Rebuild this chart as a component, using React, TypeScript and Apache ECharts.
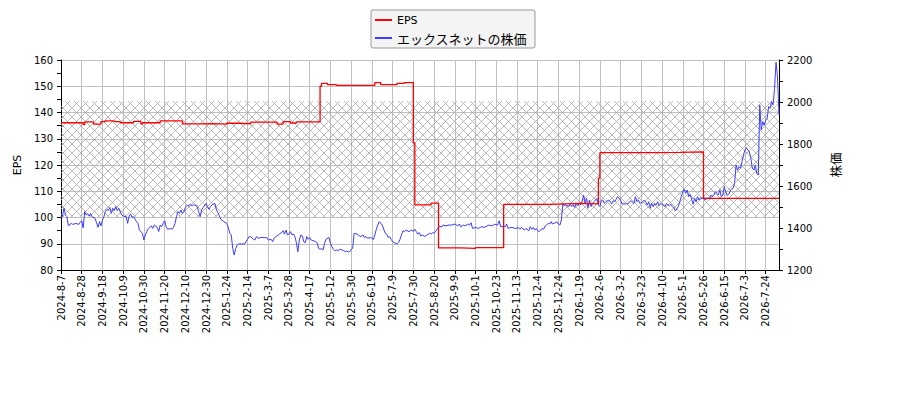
import * as echarts from "echarts";
import { useEffect, useRef } from "react";

// x = trading-day index, one tick label every 14 trading days
const tickLabels = [
  "2024-8-7", "2024-8-28", "2024-9-18", "2024-10-9", "2024-10-30", "2024-11-20",
  "2024-12-10", "2024-12-30", "2025-1-24", "2025-2-14", "2025-3-7", "2025-3-28",
  "2025-4-17", "2025-5-12", "2025-5-30", "2025-6-19", "2025-7-9", "2025-7-30",
  "2025-8-20", "2025-9-9", "2025-10-1", "2025-10-23", "2025-11-13", "2025-12-4",
  "2025-12-24", "2026-1-19", "2026-2-6", "2026-3-2", "2026-3-23", "2026-4-10",
  "2026-5-1", "2026-5-26", "2026-6-15", "2026-7-3", "2026-7-24",
];
const tickStep = 14;
const lastDay = 485;

// EPS: [trading-day index, value] — value holds until the next entry
const epsSteps: [number, number][] = [
  [0, 136.1], [15, 135.4], [16, 136.4], [22, 135.6], [27, 136.5], [30, 136.8],
  [36, 136.5], [40, 136.1], [49, 136.6], [54, 135.6], [55, 136.1], [67, 136.8],
  [82, 135.7], [94, 135.8], [103, 135.6], [112, 135.9], [121, 135.7], [128, 136.3],
  [146, 135.6], [150, 136.5], [155, 136.0], [159, 136.4], [175, 150.0], [176, 151.1],
  [180, 150.6], [186, 150.3], [212, 151.4], [216, 150.6], [227, 151.1], [232, 151.4],
  [238, 128.4], [239, 104.8], [250, 105.5], [255, 88.4], [270, 88.2], [280, 88.5],
  [299, 105.0], [330, 105.2], [340, 105.4], [350, 105.2], [363, 115.0], [364, 124.7],
  [400, 124.8], [418, 125.0], [434, 107.3], [485, 107.3],
];

// share price: [trading-day index, yen]
const prices: [number, number][] = [
  [0, 1446], [1, 1457], [2, 1494], [3, 1462], [4, 1454], [5, 1410], [7, 1422], [8, 1417],
  [10, 1422], [12, 1417], [13, 1427], [14, 1435], [15, 1400], [16, 1478], [17, 1462],
  [18, 1467], [19, 1457], [20, 1470], [21, 1454], [23, 1446], [24, 1425], [25, 1403],
  [26, 1430], [27, 1410], [28, 1438], [29, 1454], [30, 1478], [31, 1489], [32, 1483],
  [33, 1498], [34, 1470], [35, 1494], [36, 1483], [37, 1502], [38, 1483], [39, 1494],
  [41, 1462], [42, 1457], [44, 1454], [45, 1422], [46, 1457], [47, 1467], [48, 1451],
  [49, 1454], [51, 1430], [52, 1422], [53, 1390], [55, 1375], [56, 1343], [57, 1367],
  [58, 1383], [59, 1398], [60, 1403], [61, 1410], [62, 1398], [63, 1414], [65, 1403],
  [66, 1383], [67, 1414], [68, 1406], [69, 1422], [70, 1435], [71, 1406], [72, 1394],
  [74, 1398], [75, 1394], [76, 1403], [77, 1422], [78, 1454], [79, 1478], [80, 1470],
  [81, 1486], [82, 1470], [83, 1478], [84, 1498], [85, 1505], [87, 1510], [89, 1508],
  [90, 1510], [92, 1502], [93, 1478], [94, 1454], [95, 1486], [96, 1498], [98, 1517],
  [99, 1502], [100, 1489], [101, 1502], [102, 1510], [103, 1514], [104, 1517], [105, 1486],
  [106, 1473], [107, 1457], [108, 1441], [110, 1430], [112, 1422], [113, 1403], [114, 1375],
  [115, 1367], [116, 1303], [117, 1271], [118, 1303], [119, 1319], [120, 1324], [122, 1324],
  [124, 1324], [125, 1335], [126, 1346], [127, 1359], [128, 1359], [130, 1346], [131, 1343],
  [132, 1359], [133, 1351], [135, 1355], [138, 1354], [139, 1355], [140, 1343], [142, 1346],
  [143, 1335], [144, 1351], [145, 1359], [147, 1367], [148, 1375], [149, 1378], [150, 1387],
  [151, 1371], [152, 1390], [153, 1367], [154, 1371], [155, 1383], [156, 1367], [157, 1371],
  [158, 1359], [159, 1330], [160, 1287], [161, 1343], [162, 1367], [163, 1362], [164, 1335],
  [165, 1330], [166, 1359], [167, 1346], [168, 1355], [169, 1343], [172, 1335], [173, 1330],
  [174, 1303], [175, 1298], [176, 1303], [177, 1295], [178, 1327], [179, 1346], [181, 1355],
  [182, 1327], [183, 1311], [184, 1298], [185, 1292], [186, 1295], [187, 1292], [188, 1298],
  [190, 1295], [191, 1292], [192, 1287], [193, 1290], [194, 1287], [195, 1287], [196, 1298],
  [197, 1303], [198, 1375], [200, 1371], [201, 1367], [202, 1359], [203, 1362], [204, 1367],
  [205, 1354], [206, 1359], [207, 1351], [209, 1355], [210, 1351], [211, 1346], [212, 1367],
  [213, 1394], [214, 1414], [215, 1430], [217, 1414], [219, 1375], [220, 1371], [221, 1355],
  [222, 1359], [223, 1346], [224, 1335], [225, 1330], [227, 1324], [228, 1330], [229, 1346],
  [230, 1367], [231, 1387], [232, 1383], [233, 1390], [235, 1383], [236, 1387], [237, 1390],
  [238, 1383], [239, 1394], [240, 1383], [241, 1371], [242, 1378], [243, 1362], [244, 1367],
  [246, 1359], [247, 1367], [248, 1370], [249, 1375], [250, 1371], [251, 1378], [252, 1375],
  [253, 1383], [254, 1394], [256, 1410], [257, 1403], [258, 1414], [260, 1410], [262, 1414],
  [264, 1414], [266, 1419], [268, 1410], [269, 1419], [270, 1406], [272, 1414], [273, 1410],
  [275, 1419], [276, 1414], [277, 1425], [278, 1398], [280, 1403], [282, 1398], [284, 1406],
  [286, 1403], [289, 1414], [291, 1410], [293, 1418], [295, 1414], [296, 1435], [297, 1406],
  [299, 1410], [300, 1406], [301, 1419], [302, 1398], [304, 1403], [307, 1398], [309, 1402],
  [310, 1394], [311, 1403], [313, 1390], [314, 1398], [316, 1387], [317, 1406], [318, 1394],
  [319, 1403], [320, 1390], [321, 1398], [322, 1387], [323, 1383], [325, 1398], [326, 1394],
  [327, 1410], [328, 1414], [329, 1422], [330, 1419], [331, 1430], [332, 1419], [334, 1425],
  [335, 1430], [336, 1419], [337, 1414], [338, 1438], [339, 1517], [340, 1505], [341, 1510],
  [343, 1502], [344, 1514], [345, 1502], [346, 1510], [347, 1498], [348, 1517], [349, 1505],
  [350, 1517], [351, 1510], [352, 1525], [353, 1557], [354, 1517], [355, 1541], [356, 1494],
  [357, 1533], [358, 1502], [359, 1517], [360, 1525], [362, 1541], [363, 1510], [364, 1502],
  [365, 1530], [366, 1533], [367, 1517], [368, 1525], [370, 1533], [371, 1525], [372, 1514],
  [373, 1530], [374, 1525], [375, 1537], [376, 1549], [378, 1533], [379, 1514], [380, 1517],
  [381, 1513], [382, 1517], [383, 1514], [384, 1525], [385, 1530], [387, 1517], [388, 1549],
  [389, 1525], [390, 1533], [391, 1517], [392, 1521], [393, 1525], [394, 1533], [395, 1525],
  [396, 1509], [397, 1525], [398, 1494], [399, 1517], [400, 1502], [401, 1517], [402, 1509],
  [403, 1525], [404, 1506], [405, 1517], [406, 1513], [408, 1502], [409, 1517], [410, 1509],
  [411, 1506], [412, 1513], [413, 1502], [414, 1497], [415, 1481], [417, 1502], [418, 1525],
  [419, 1549], [420, 1573], [421, 1584], [422, 1565], [423, 1581], [424, 1549], [425, 1560],
  [426, 1538], [427, 1513], [428, 1541], [429, 1525], [430, 1549], [431, 1533], [432, 1544],
  [433, 1538], [434, 1549], [435, 1533], [436, 1538], [437, 1544], [438, 1538], [439, 1557],
  [440, 1549], [441, 1560], [442, 1573], [444, 1557], [445, 1581], [446, 1549], [447, 1557],
  [448, 1597], [449, 1573], [450, 1557], [451, 1560], [452, 1576], [453, 1586], [454, 1589],
  [455, 1613], [456, 1700], [457, 1676], [458, 1692], [459, 1684], [460, 1716], [461, 1748],
  [462, 1771], [463, 1783], [464, 1771], [465, 1763], [466, 1732], [467, 1684], [468, 1676],
  [469, 1700], [470, 1660], [471, 1652], [472, 1986], [473, 1867], [474, 1906], [475, 1890],
  [476, 1914], [477, 1922], [478, 1978], [479, 1970], [480, 2002], [481, 1986], [482, 2065],
  [483, 2189], [484, 2120], [485, 1938],
];

// shaded band on the EPS axis
const hatchBand: [number, number] = [100.3, 144.4];

const FONT = "'DejaVu Sans', 'Noto Sans CJK JP', sans-serif";
const JP_FONT = "'Noto Sans CJK JP', sans-serif";

function makeHatch() {
  const s = 9;
  const c = document.createElement("canvas");
  c.width = s;
  c.height = s;
  const ctx = c.getContext("2d")!;
  ctx.strokeStyle = "#a8a8a8";
  ctx.lineWidth = 0.8;
  ctx.beginPath();
  ctx.moveTo(0, 0);
  ctx.lineTo(s, s);
  ctx.moveTo(s, 0);
  ctx.lineTo(0, s);
  ctx.stroke();
  return c;
}

export default function App() {
  const chartRef = useRef<HTMLDivElement>(null);

  useEffect(() => {
    if (!chartRef.current) return;
    const chart = echarts.init(chartRef.current, null, { renderer: "svg" });

    const axisLine = { show: true, lineStyle: { color: "#000", width: 1 } };
    const axisTick = { show: true, length: 4, lineStyle: { color: "#000" } };
    const minorTick = { show: true, splitNumber: 2, length: 4, lineStyle: { color: "#000" } };
    const label = { color: "#000", fontSize: 10, fontFamily: FONT };
    const grid = { show: true, lineStyle: { color: "#c0c0c0", width: 1 } };

    const option: echarts.EChartsOption = {
      animation: false,
      backgroundColor: "#fff",
      legend: {
        left: 371,
        top: 10,
        orient: "vertical",
        padding: [3, 8, 3, 4],
        itemGap: 4,
        itemWidth: 17,
        itemHeight: 2,
        backgroundColor: "#f4f4f4",
        borderColor: "#999",
        borderWidth: 1,
        borderRadius: 2,
        icon: "rect",
        textStyle: {
          color: "#000",
          fontSize: 11,
          fontFamily: FONT,
          lineHeight: 14,
          rich: { jp: { fontSize: 13, fontFamily: JP_FONT, lineHeight: 14 } },
        },
        formatter: (name: string) => (name === "EPS" ? name : `{jp|${name}}`),
        data: ["EPS", "エックスネットの株価"],
      },
      grid: { left: 61, right: 121, top: 60, bottom: 130 },
      xAxis: {
        type: "value",
        min: 0,
        max: lastDay,
        interval: tickStep,
        axisLine,
        axisTick,
        splitLine: grid,
        axisLabel: {
          ...label,
          rotate: 90,
          margin: 5,
          showMaxLabel: false,
          formatter: (v: number) =>
            v % tickStep === 0 ? tickLabels[v / tickStep] ?? "" : "",
        },
      },
      yAxis: [
        {
          type: "value",
          min: 80,
          max: 160,
          interval: 10,
          name: "EPS",
          nameLocation: "middle",
          nameRotate: 90,
          nameGap: 32,
          nameTextStyle: { color: "#000", fontSize: 11, fontFamily: FONT },
          axisLine,
          axisTick,
          minorTick,
          axisLabel: { ...label, margin: 8 },
          splitLine: grid,
        },
        {
          type: "value",
          min: 1200,
          max: 2200,
          interval: 200,
          name: "株価",
          nameLocation: "middle",
          nameRotate: 90,
          nameGap: 50,
          nameTextStyle: { color: "#000", fontSize: 12.5, fontFamily: JP_FONT },
          axisLine,
          axisTick,
          minorTick,
          axisLabel: { ...label, margin: 8, formatter: (v: number) => String(v) },
          splitLine: { show: false },
        },
      ],
      series: [
        {
          name: "EPS",
          type: "line",
          yAxisIndex: 0,
          step: "end",
          data: epsSteps,
          showSymbol: false,
          z: 4,
          color: "#ff0000",
          lineStyle: { color: "#ff0000", width: 1.3 },
          markArea: {
            silent: true,
            itemStyle: { color: { image: makeHatch(), repeat: "repeat" } as any },
            data: [[{ yAxis: hatchBand[0] }, { yAxis: hatchBand[1] }]],
          },
        },
        {
          name: "エックスネットの株価",
          type: "line",
          yAxisIndex: 1,
          data: prices,
          showSymbol: false,
          z: 3,
          color: "#3c3cff",
          lineStyle: { color: "#3c3cff", width: 1 },
        },
      ],
    };

    chart.setOption(option);
    return () => chart.dispose();
  }, []);

  return (
    <div
      ref={chartRef}
      style={{ position: "absolute", left: 0, top: 0, width: 900, height: 400 }}
    />
  );
}
